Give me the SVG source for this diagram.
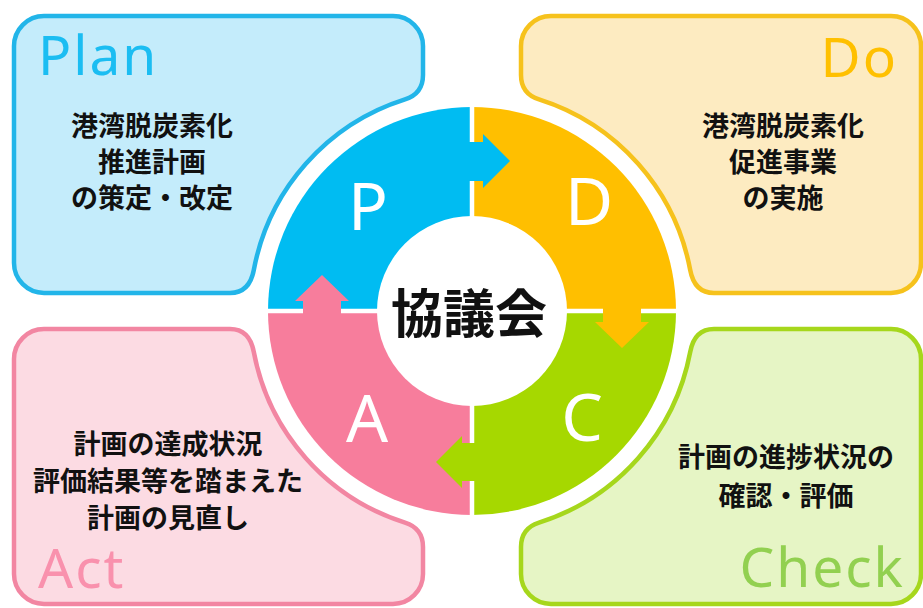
<svg xmlns="http://www.w3.org/2000/svg" width="923" height="608" viewBox="0 0 923 608">
<style>
.box{stroke-width:4.5}
.title{font-family:"Noto Sans","Open Sans","Liberation Sans",sans-serif;font-size:55px;letter-spacing:2px}
.body{font-family:"Noto Sans CJK JP","Noto Sans",sans-serif;font-size:27px;font-weight:700;fill:#111;text-anchor:middle}
.letter{font-family:"Noto Sans","Open Sans","Liberation Sans",sans-serif;font-size:66px;fill:#fff;text-anchor:middle}
.div{stroke:#fff;stroke-width:4.5}
</style>
<rect width="923" height="608" fill="#fff"/>
<g id="plan">
<path class="box" fill="#c4ecfb" stroke="#22b5e9" d="M44,16 H393 A30,30 0 0 1 423,46 V75 Q423,93.7 405,99.4 A222,222 0 0 0 253.8,270 Q249.5,293 230,293 H44 A30,30 0 0 1 14,263 V46 A30,30 0 0 1 44,16 Z"/>
<text class="title" x="38" y="75" fill="#1bbdf2">Plan</text>
<text class="body" x="152" y="136">港湾脱炭素化</text>
<text class="body" x="152" y="172">推進計画</text>
<text class="body" x="152" y="208">の策定・改定</text>
</g>
<g id="do">
<path class="box" fill="#fdebc1" stroke="#f6c21c" d="M551,16 H891 A30,30 0 0 1 921,46 V263 A30,30 0 0 1 891,293 H714 Q694.5,293 690.2,270 A222,222 0 0 0 539,99.4 Q521,93.7 521,75 V46 A30,30 0 0 1 551,16 Z"/>
<text class="title" x="898" y="77" fill="#ffc000" text-anchor="end">Do</text>
<text class="body" x="783" y="136">港湾脱炭素化</text>
<text class="body" x="783" y="172">促進事業</text>
<text class="body" x="783" y="208">の実施</text>
</g>
<g id="act">
<path class="box" fill="#fcdbe3" stroke="#f286a2" d="M44,329 H230 Q249.5,329 253.8,352 A222,222 0 0 0 405,522.6 Q423,528.3 423,547 V574 A30,30 0 0 1 393,604 H44 A30,30 0 0 1 14,574 V359 A30,30 0 0 1 44,329 Z"/>
<text class="title" x="38" y="588" fill="#f991ad">Act</text>
<text class="body" x="168" y="454">計画の達成状況</text>
<text class="body" x="168" y="491">評価結果等を踏まえた</text>
<text class="body" x="168" y="528">計画の見直し</text>
</g>
<g id="check">
<path class="box" fill="#e6f5c5" stroke="#a6d71c" d="M714,329 H891 A30,30 0 0 1 921,359 V574 A30,30 0 0 1 891,604 H551 A30,30 0 0 1 521,574 V547 Q521,528.3 539,522.6 A222,222 0 0 0 690.2,352 Q694.5,329 714,329 Z"/>
<text class="title" x="905" y="587" fill="#92d050" text-anchor="end">Check</text>
<text class="body" x="786" y="467">計画の進捗状況の</text>
<text class="body" x="786" y="506">確認・評価</text>
</g>
<g id="ring">
<path fill="#00bcf2" d="M472,311 L472,107 A204,204 0 0 0 268,311 Z"/>
<path fill="#ffbf00" d="M472,311 L676,311 A204,204 0 0 0 472,107 Z"/>
<path fill="#a6d800" d="M472,311 L472,515 A204,204 0 0 0 676,311 Z"/>
<path fill="#f77d9c" d="M472,311 L268,311 A204,204 0 0 0 472,515 Z"/>
<line class="div" x1="472" y1="100" x2="472" y2="522"/>
<line class="div" x1="260" y1="311" x2="684" y2="311"/>
</g>
<g id="connectors">
<path fill="#00bcf2" d="M462,142 H483 V134 L510,161 L483,188 V181 H462 Z"/>
<path fill="#ffbf00" d="M603,300 V322 H595 L622,348 L649,322 H641 V300 Z"/>
<path fill="#a6d800" d="M482,443 H462 V436 L436,462 L462,488 V481 H482 Z"/>
<path fill="#f77d9c" d="M303,322 V301 H295 L322,275 L349,301 H341 V322 Z"/>
</g>
<g id="center">
<circle cx="472" cy="311" r="95" fill="#fff"/>
<text x="469" y="333" font-family="Noto Sans CJK JP, sans-serif" font-size="52" font-weight="700" fill="#111" text-anchor="middle">協議会</text>
</g>
<g id="letters">
<text class="letter" x="368" y="230">P</text>
<text class="letter" x="589" y="225">D</text>
<text class="letter" x="582" y="441">C</text>
<text class="letter" x="367" y="442">A</text>
</g>
</svg>
